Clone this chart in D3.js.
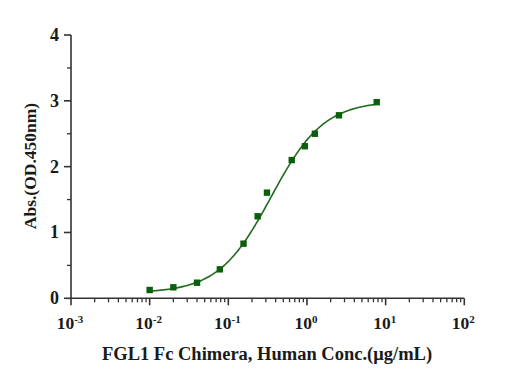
<!DOCTYPE html>
<html><head><meta charset="utf-8">
<script src="https://cdn.jsdelivr.net/npm/d3@7"></script>
<style>body{margin:0;background:#fff}svg{display:block}text{font-family:"Liberation Serif","Times New Roman",serif;font-weight:bold;fill:#1a1a1a}</style>
</head><body><svg id="c" width="519" height="383"></svg>
<script>
const concentrations = [0.01, 0.02, 0.04, 0.078, 0.156, 0.236, 0.31, 0.64, 0.94, 1.26, 2.55, 7.7];
const absorbance = [0.126, 0.167, 0.237, 0.44, 0.83, 1.246, 1.605, 2.10, 2.31, 2.50, 2.78, 2.98];
// 4-parameter logistic fit: bottom, top, EC50, Hill slope
const fitParams = [0.08, 3.0, 0.35, 1.3];
const yTicks = [0, 1, 2, 3, 4];
const xExponents = [-3, -2, -1, 0, 1, 2];
const yTitle = "Abs.(OD.450nm)";
const xTitle = "FGL1 Fc Chimera, Human Conc.(μg/mL)";

(function () {
const svg = d3.select("#c");
const x = d3.scaleLog().domain([1e-3, 1e2]).range([71, 464.3]);
const y = d3.scaleLinear().domain([0, 4]).range([298.3, 35]);
const axisColor = "#333";

// x axis
const gx = svg.append("g");
gx.append("line").attr("x1", x(1e-3)).attr("x2", x(1e2)).attr("y1", y(0)).attr("y2", y(0))
  .attr("stroke", axisColor).attr("stroke-width", 1.6);
const minorX = [];
xExponents.slice(0, -1).forEach(e => { for (let k = 2; k <= 9; k++) minorX.push(k * Math.pow(10, e)); });
gx.selectAll(".mx").data(minorX).enter().append("line")
  .attr("x1", d => x(d)).attr("x2", d => x(d)).attr("y1", y(0)).attr("y2", y(0) + 4)
  .attr("stroke", axisColor).attr("stroke-width", 1.3);
gx.selectAll(".Mx").data(xExponents).enter().append("line")
  .attr("x1", d => x(Math.pow(10, d))).attr("x2", d => x(Math.pow(10, d))).attr("y1", y(0)).attr("y2", y(0) + 7)
  .attr("stroke", axisColor).attr("stroke-width", 1.6);
const xl = gx.selectAll(".xl").data(xExponents).enter().append("text")
  .attr("x", d => x(Math.pow(10, d)) - 1).attr("y", 329)
  .attr("text-anchor", "middle").style("font-size", "17.5px");
xl.append("tspan").text("10");
xl.append("tspan").attr("dy", -6).style("font-size", "11px").text(d => (d < 0 ? "-" : "") + Math.abs(d));

// y axis
const gy = svg.append("g");
gy.append("line").attr("x1", x(1e-3)).attr("x2", x(1e-3)).attr("y1", y(0)).attr("y2", y(4))
  .attr("stroke", axisColor).attr("stroke-width", 1.6);
const minorY = d3.range(0.5, 4, 1);
gy.selectAll(".my").data(minorY).enter().append("line")
  .attr("x1", x(1e-3) - 4).attr("x2", x(1e-3)).attr("y1", d => y(d)).attr("y2", d => y(d))
  .attr("stroke", axisColor).attr("stroke-width", 1.3);
gy.selectAll(".My").data(yTicks).enter().append("line")
  .attr("x1", x(1e-3) - 7).attr("x2", x(1e-3)).attr("y1", d => y(d)).attr("y2", d => y(d))
  .attr("stroke", axisColor).attr("stroke-width", 1.6);
gy.selectAll(".yl").data(yTicks).enter().append("text")
  .attr("x", 59).attr("y", d => y(d) + 6).attr("text-anchor", "end").style("font-size", "18px").text(d => d);

// titles
svg.append("text").attr("transform", "translate(36,166) rotate(-90)").attr("text-anchor", "middle")
  .style("font-size", "17.5px").text(yTitle);
svg.append("text").attr("x", 267).attr("y", 360).attr("text-anchor", "middle")
  .style("font-size", "18.5px").text(xTitle);

// fitted curve
const [fBottom, fTop, fEc50, fHill] = fitParams;
const fit = c => fBottom + (fTop - fBottom) / (1 + Math.pow(fEc50 / c, fHill));
const lx = d3.extent(concentrations);
const curveX = d3.range(0, 201).map(i => Math.pow(10, Math.log10(lx[0]) + i / 200 * (Math.log10(lx[1]) - Math.log10(lx[0]))));
svg.append("path").datum(curveX)
  .attr("d", d3.line().x(d => x(d)).y(d => y(fit(d))))
  .attr("fill", "none").attr("stroke", "#1f6b1f").attr("stroke-width", 1.6);

// points
svg.selectAll(".pt").data(concentrations).enter().append("rect")
  .attr("x", d => x(d) - 3.2).attr("y", (d, i) => y(absorbance[i]) - 3.2)
  .attr("width", 6.4).attr("height", 6.4).attr("fill", "#0b5e0b");
})();
</script></body></html>
